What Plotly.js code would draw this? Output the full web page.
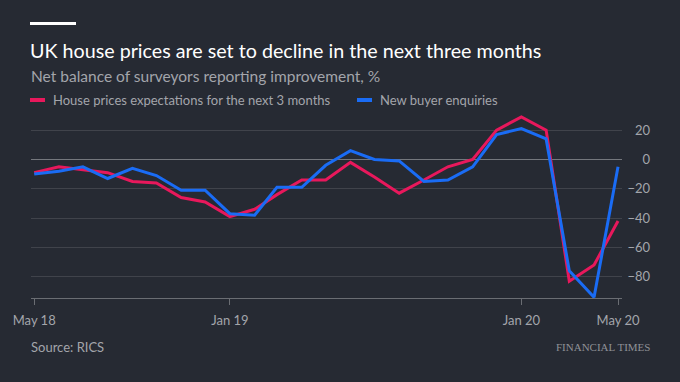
<!DOCTYPE html>
<html>
<head>
<meta charset="utf-8">
<script src="https://cdn.plot.ly/plotly-3.0.1.min.js"></script>
<style>
html,body{margin:0;padding:0;background:#262a33;}
#chart{width:680px;height:382px;}
</style>
</head>
<body>
<div id="chart"></div>
<script>
var months = ['2018-05-01','2018-06-01','2018-07-01','2018-08-01','2018-09-01','2018-10-01','2018-11-01','2018-12-01',
  '2019-01-01','2019-02-01','2019-03-01','2019-04-01','2019-05-01','2019-06-01','2019-07-01','2019-08-01',
  '2019-09-01','2019-10-01','2019-11-01','2019-12-01','2020-01-01','2020-02-01','2020-03-01','2020-04-01','2020-05-01'];
var housePriceExpectations = [-9,-5,-7,-9,-15,-16,-26,-29,-39,-34,-24,-14,-14,-2,-12,-23,-14,-5,0,20,29,20,-83,-72,-42];
var newBuyerEnquiries = [-10,-8,-5,-13,-6,-11,-21,-21,-37,-38,-19,-19,-4,6,0,-1,-15,-14,-5,17,21,14,-76,-94,-5];
var xTickVals = ['2018-05-01','2019-01-01','2020-01-01','2020-05-01'];
var xTickText = ['May 18','Jan 19','Jan 20','May 20'];
var seriesNames = ['House prices expectations for the next 3 months','New buyer enquiries'];
var seriesColors = ['#e8185c','#1a6cf5'];

var FONT = 'Lato, "Noto Sans", sans-serif';
var ML = 31, MR = 30, MT = 114, MB = 84;
var PW = 680 - ML - MR, PH = 382 - MT - MB;
function px(x) { return (x - ML) / PW; }
function py(y) { return (382 - MB - y) / PH; }

var traces = [
  {x: months, y: housePriceExpectations, name: seriesNames[0], type: 'scatter', mode: 'lines',
   line: {color: seriesColors[0], width: 3}},
  {x: months, y: newBuyerEnquiries, name: seriesNames[1], type: 'scatter', mode: 'lines',
   line: {color: seriesColors[1], width: 3}}
];
var layout = {
  width: 680, height: 382,
  paper_bgcolor: '#262a33', plot_bgcolor: '#262a33',
  margin: {l: ML, r: MR, t: MT, b: MB},
  font: {family: FONT, color: '#a3a5ab', size: 13},
  title: {text: 'UK house prices are set to decline in the next three months',
    font: {family: FONT, size: 19.7, color: '#ffffff'},
    x: 30/680, xanchor: 'left', xref: 'container', y: 1 - 51/382, yanchor: 'middle', yref: 'container'},
  showlegend: false,
  xaxis: {type: 'date', domain: [0, px(622)], range: ['2018-04-27', '2020-05-06'],
    tickvals: xTickVals, ticktext: xTickText, showgrid: false, zeroline: false,
    showline: true, linecolor: '#6a6d73', linewidth: 1,
    ticks: 'outside', ticklen: 6, tickcolor: '#6a6d73', tickwidth: 1,
    tickfont: {family: FONT, size: 13, color: '#a3a5ab'}, ticklabelstandoff: 4},
  yaxis: {range: [-94.5, 31], dtick: 20, tick0: 0, anchor: 'free', position: 1, side: 'left',
    showgrid: true, gridcolor: '#40434b', gridwidth: 1,
    zeroline: true, zerolinecolor: '#74777d', zerolinewidth: 1,
    showline: false, ticks: '', tickfont: {family: FONT, size: 13, color: '#a3a5ab'}},
  shapes: [
    {type: 'line', xref: 'paper', yref: 'paper', x0: px(30), x1: px(76),
     y0: py(23.5), y1: py(23.5), line: {color: '#ffffff', width: 3}},
    {type: 'line', xref: 'paper', yref: 'paper', x0: px(30), x1: px(45),
     y0: py(100), y1: py(100), line: {color: seriesColors[0], width: 4}},
    {type: 'line', xref: 'paper', yref: 'paper', x0: px(357), x1: px(372),
     y0: py(100), y1: py(100), line: {color: seriesColors[1], width: 4}}
  ],
  annotations: [
    {text: 'Net balance of surveyors reporting improvement, %', xref: 'paper', yref: 'paper',
     x: px(29), xanchor: 'left', y: py(76), yanchor: 'middle', showarrow: false,
     font: {family: FONT, size: 15.5, color: '#a3a5ab'}},
    {text: seriesNames[0], xref: 'paper', yref: 'paper', x: px(51), xanchor: 'left',
     y: py(100), yanchor: 'middle', showarrow: false, font: {family: FONT, size: 13, color: '#a3a5ab'}},
    {text: seriesNames[1], xref: 'paper', yref: 'paper', x: px(378), xanchor: 'left',
     y: py(100), yanchor: 'middle', showarrow: false, font: {family: FONT, size: 13, color: '#a3a5ab'}},
    {text: 'Source: RICS', xref: 'paper', yref: 'paper', x: px(29), xanchor: 'left',
     y: py(347), yanchor: 'middle', showarrow: false, font: {family: FONT, size: 13, color: '#a3a5ab'}},
    {text: 'FINANCIAL TIMES', xref: 'paper', yref: 'paper', x: px(652), xanchor: 'right',
     y: py(347), yanchor: 'middle', showarrow: false,
     font: {family: '"Liberation Serif", "DejaVu Serif", serif', size: 11, color: '#8f9197'}}
  ]
};
Plotly.newPlot('chart', traces, layout, {displayModeBar: false, staticPlot: true});
</script>
</body>
</html>
